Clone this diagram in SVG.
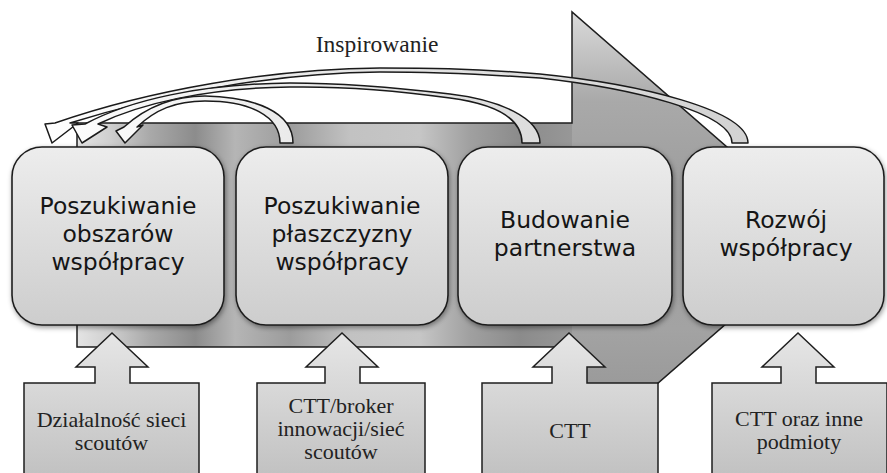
<svg xmlns="http://www.w3.org/2000/svg" width="887" height="473" viewBox="0 0 887 473">
<defs>
<style>
.box{stroke:#1e1e1e;stroke-width:1.6;fill:url(#boxGrad);filter:url(#shadow)}
.boxtxt{font-family:"DejaVu Sans","Open Sans",sans-serif;font-size:23.5px;fill:#151515;text-anchor:middle}
.src{stroke:#1e1e1e;stroke-width:1.5;fill:url(#srcGrad)}
.srctxt{font-family:"Liberation Serif","Times New Roman",serif;font-size:22px;fill:#222;text-anchor:middle}
.curve{stroke:#1a1a1a;stroke-width:1.5;fill:url(#curveGrad);stroke-linejoin:round}
</style>
<linearGradient id="bodyGrad" gradientUnits="userSpaceOnUse" x1="77" y1="0" x2="830" y2="0">
<stop offset="0" stop-color="#e4e4e4"/>
<stop offset="0.044" stop-color="#cfcfcf"/>
<stop offset="0.097" stop-color="#a9a9a9"/>
<stop offset="0.157" stop-color="#8c8c8c"/>
<stop offset="0.21" stop-color="#b5b5b5"/>
<stop offset="0.283" stop-color="#9c9c9c"/>
<stop offset="0.363" stop-color="#c2c2c2"/>
<stop offset="0.455" stop-color="#c6c6c6"/>
<stop offset="0.522" stop-color="#a0a0a0"/>
<stop offset="0.588" stop-color="#8b8b8b"/>
<stop offset="0.695" stop-color="#9e9e9e"/>
<stop offset="1" stop-color="#a9a9a9"/>
</linearGradient>
<linearGradient id="headGrad" gradientUnits="userSpaceOnUse" x1="0" y1="12" x2="0" y2="458">
<stop offset="0" stop-color="#dadada"/>
<stop offset="0.2" stop-color="#a9a9a9"/>
<stop offset="0.42" stop-color="#9c9c9c"/>
<stop offset="0.71" stop-color="#a3a3a3"/>
<stop offset="1" stop-color="#8f8f8f"/>
</linearGradient>
<linearGradient id="boxGrad" x1="0" y1="0" x2="0" y2="1">
<stop offset="0" stop-color="#ededed"/>
<stop offset="1" stop-color="#cdcdcd"/>
</linearGradient>
<linearGradient id="srcGrad" gradientUnits="userSpaceOnUse" x1="0" y1="333" x2="0" y2="473">
<stop offset="0" stop-color="#e6e6e6"/>
<stop offset="1" stop-color="#c2c2c2"/>
</linearGradient>
<linearGradient id="curveGrad" gradientUnits="userSpaceOnUse" x1="40" y1="0" x2="750" y2="0">
<stop offset="0" stop-color="#ffffff"/>
<stop offset="0.4" stop-color="#e8e8e8"/>
<stop offset="1" stop-color="#d2d2d2"/>
</linearGradient>
<filter id="shadow" x="-10%" y="-10%" width="120%" height="120%">
<feDropShadow dx="1" dy="2" stdDeviation="2.5" flood-color="#000" flood-opacity="0.4"/>
</filter>
</defs>

<g id="flow-arrow">
<path d="M77,123 L572,123 L572,12 L828,235 L572,458 L572,347 L77,347 Z" fill="url(#bodyGrad)"/>
<path d="M572,123 L572,12 L828,235 L572,458 L572,347 Z" fill="url(#headGrad)"/>
<path d="M77,123 L572,123 L572,12 L828,235 L572,458 L572,347 L77,347 Z" fill="none" stroke="#1e1e1e" stroke-width="1.5"/>
</g>

<g id="connectors">
<path id="arrow-from-4" class="curve" d="M748,143 C748,110 640,84 540,74 C470,68 420,68 380,68 C270,69 150,90 55,123 L45,124 L52,143 L78,123 L70,123 C160,95 270,73 380,72 C430,72 480,74 540,78 C630,88 732,112 732,143 Z"/>
<path id="arrow-from-3" class="curve" d="M540,143 C540,118 500,100 450,94 C400,88 350,83 290,83 C200,84 130,100 85,124 L72,125 L82,143 L107,127 L98,124 C140,104 205,88 290,87 C350,86 400,91 450,98 C495,104 522,118 522,143 Z"/>
<path id="arrow-from-2" class="curve" d="M293,143 C293,112 255,97 205,96 C170,96 145,108 124,127 L116,131 L125,143 L143,125 L137,127 C155,110 175,101 205,101 C250,101 280,116 280,143 Z"/>
<text x="377" y="52" font-family="Liberation Serif, Times New Roman, serif" font-size="23.5" fill="#222" text-anchor="middle">Inspirowanie</text>
</g>

<g id="box1">
<rect class="box" x="12" y="147" width="212" height="178" rx="30"/>
<text class="boxtxt" x="118" y="214">Poszukiwanie</text>
<text class="boxtxt" x="118" y="242">obszarów</text>
<text class="boxtxt" x="118" y="270">współpracy</text>
</g>
<g id="box2">
<rect class="box" x="236" y="147" width="212" height="178" rx="30"/>
<text class="boxtxt" x="342" y="214">Poszukiwanie</text>
<text class="boxtxt" x="342" y="242">płaszczyzny</text>
<text class="boxtxt" x="342" y="270">współpracy</text>
</g>
<g id="box3">
<rect class="box" x="458" y="147" width="214" height="178" rx="30"/>
<text class="boxtxt" x="565" y="228">Budowanie</text>
<text class="boxtxt" x="565" y="256">partnerstwa</text>
</g>
<g id="box4">
<rect class="box" x="683" y="147" width="201" height="178" rx="30"/>
<text class="boxtxt" x="786" y="228">Rozwój</text>
<text class="boxtxt" x="786" y="256">współpracy</text>
</g>

<g id="source1">
<path class="src" d="M112,333 L148,367 L130,367 L130,383 L199,383 L199,480 L24,480 L24,383 L95,383 L95,367 L76,367 Z"/>
<text class="srctxt" x="111.5" y="427">Działalność sieci</text>
<text class="srctxt" x="111.5" y="450">scoutów</text>
</g>
<g id="source2">
<path class="src" d="M342,333 L378,367 L360,367 L360,383 L425,383 L425,480 L257,480 L257,383 L325,383 L325,367 L306,367 Z"/>
<text class="srctxt" x="341" y="413">CTT/broker</text>
<text class="srctxt" x="341" y="436">innowacji/sieć</text>
<text class="srctxt" x="341" y="459">scoutów</text>
</g>
<g id="source3">
<path class="src" d="M569,333 L605,367 L587,367 L587,383 L658,383 L658,480 L482,480 L482,383 L552,383 L552,367 L533,367 Z"/>
<text class="srctxt" x="570" y="438">CTT</text>
</g>
<g id="source4">
<path class="src" d="M798,333 L834,367 L816,367 L816,383 L887,383 L887,480 L712,480 L712,383 L781,383 L781,367 L762,367 Z"/>
<text class="srctxt" x="799" y="426">CTT oraz inne</text>
<text class="srctxt" x="799" y="449">podmioty</text>
</g>
</svg>
